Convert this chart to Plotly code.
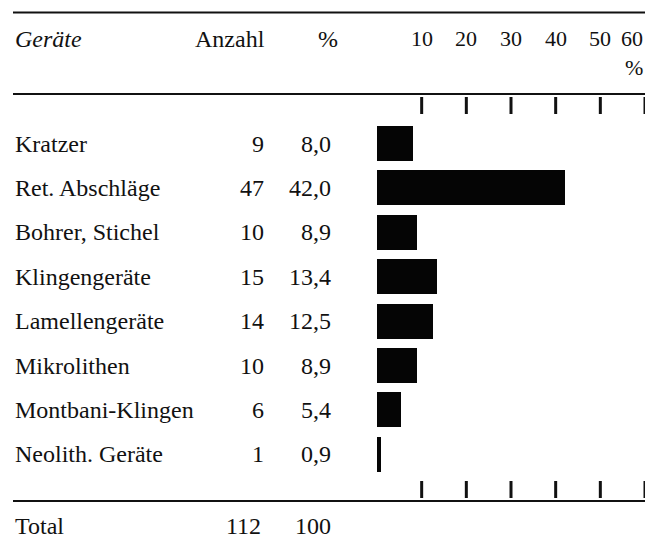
import plotly.graph_objects as go

# ---- data ----
categories = ["Kratzer", "Ret. Abschläge", "Bohrer, Stichel", "Klingengeräte",
              "Lamellengeräte", "Mikrolithen", "Montbani-Klingen", "Neolith. Geräte"]
counts = [9, 47, 10, 15, 14, 10, 6, 1]
percents = [8.0, 42.0, 8.9, 13.4, 12.5, 8.9, 5.4, 0.9]
percent_labels = ["8,0", "42,0", "8,9", "13,4", "12,5", "8,9", "5,4", "0,9"]
tick_values = [10, 20, 30, 40, 50, 60]
tick_labels = ["10", "20", "30", "40", "50", "60"]
header_labels = ["Geräte", "Anzahl", "%"]
total_label = "Total"
total_count = 112
total_percent = 100

# ---- layout helpers ----
W, H = 649, 538
FONT = "Liberation Serif"
FS = 24
INK = "#111111"


def px(x):
    return x / W


def py(y):
    return 1 - y / H


ROW0, ROWSTEP = 143.5, 44.4
y_top = (0 - ROW0) / ROWSTEP
y_bot = (H - ROW0) / ROWSTEP
rows = list(range(len(categories)))

fig = go.Figure()
fig.add_trace(go.Bar(
    x=percents, y=rows, orientation="h", width=0.79,
    marker=dict(color="#050505", line=dict(width=0)),
    hoverinfo="skip",
))

ann = []
font = dict(family=FONT, size=FS, color=INK)
tfont = dict(family=FONT, size=22, color=INK)

# header
ann.append(dict(x=px(13), y=py(39), xref="paper", yref="paper", text="<i>" + header_labels[0] + "</i>",
                xanchor="left", yanchor="middle", showarrow=False, font=font))
ann.append(dict(x=px(267), y=py(39), xref="paper", yref="paper", text=header_labels[1],
                xanchor="right", yanchor="middle", showarrow=False, font=font))
ann.append(dict(x=px(328), y=py(39), xref="paper", yref="paper", text=header_labels[2],
                xanchor="center", yanchor="middle", showarrow=False, font=font))
for v, t in zip(tick_values, tick_labels):
    ann.append(dict(x=v, y=py(39), xref="x", yref="paper", text=t,
                    xanchor="right" if v == tick_values[-1] else "center",
                    yanchor="middle", showarrow=False, font=tfont))
ann.append(dict(x=tick_values[-1], y=py(68), xref="x", yref="paper", text="%",
                xanchor="right", yanchor="middle", showarrow=False, font=tfont))

# rows
for i, (c, n, p) in enumerate(zip(categories, counts, percent_labels)):
    ann.append(dict(x=px(13), y=i, xref="paper", yref="y", text=c,
                    xanchor="left", yanchor="middle", showarrow=False, font=font))
    ann.append(dict(x=px(266), y=i, xref="paper", yref="y", text=str(n),
                    xanchor="right", yanchor="middle", showarrow=False, font=font))
    ann.append(dict(x=px(333), y=i, xref="paper", yref="y", text=p,
                    xanchor="right", yanchor="middle", showarrow=False, font=font))

# total
ann.append(dict(x=px(13), y=py(526), xref="paper", yref="paper", text=total_label,
                xanchor="left", yanchor="middle", showarrow=False, font=font))
ann.append(dict(x=px(263), y=py(526), xref="paper", yref="paper", text=str(total_count),
                xanchor="right", yanchor="middle", showarrow=False, font=font))
ann.append(dict(x=px(333), y=py(526), xref="paper", yref="paper", text=str(total_percent),
                xanchor="right", yanchor="middle", showarrow=False, font=font))

shapes = []
for yl in (12.5, 94, 501):
    shapes.append(dict(type="line", xref="paper", yref="paper",
                       x0=px(13), x1=px(645), y0=py(yl), y1=py(yl),
                       line=dict(color=INK, width=2)))
for v in tick_values:
    for (a, b) in ((97, 114), (481, 498)):
        shapes.append(dict(type="line", xref="x", yref="paper",
                           x0=v, x1=v, y0=py(a), y1=py(b),
                           line=dict(color=INK, width=3)))

fig.update_layout(
    width=W, height=H,
    margin=dict(l=0, r=0, t=0, b=0),
    paper_bgcolor="white", plot_bgcolor="white",
    showlegend=False,
    xaxis=dict(visible=False, range=[0, 60], domain=[px(377), px(645)], fixedrange=True),
    yaxis=dict(visible=False, range=[y_bot, y_top], fixedrange=True),
    annotations=ann, shapes=shapes,
    bargap=0,
)

fig.write_html(
    "out.html",
    config={"displayModeBar": False},
    post_script="document.body.style.margin='0';document.body.style.overflow='hidden';",
)
